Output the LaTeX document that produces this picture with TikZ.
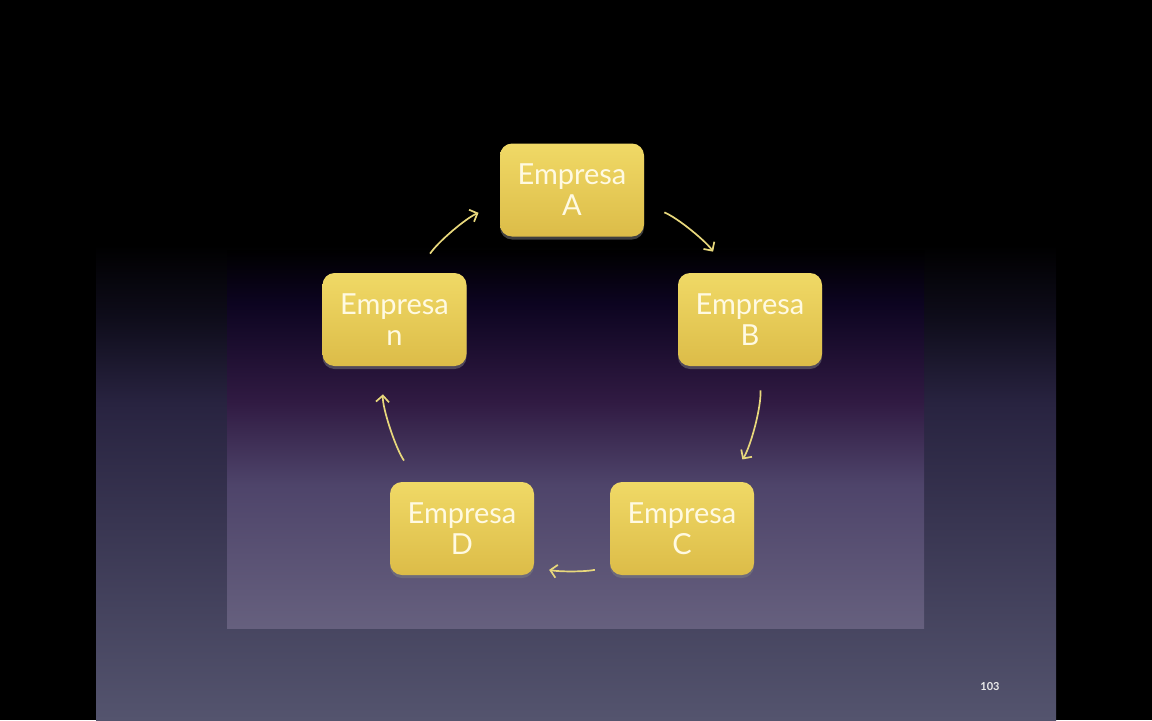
\documentclass[tikz,border=0pt]{standalone}
\usepackage{fontspec}
\setmainfont{Lato}
\usepackage{xcolor}
\usetikzlibrary{positioning,arrows.meta,shadows}
\definecolor{boxtop}{RGB}{240,217,102}
\definecolor{boxbot}{RGB}{220,188,72}
\definecolor{boxtxt}{RGB}{255,250,226}
\definecolor{arrowc}{RGB}{232,216,124}
\definecolor{bgbot}{RGB}{84,84,110}
\definecolor{bgmid}{RGB}{40,35,64}
\definecolor{bgup}{RGB}{14,12,26}
\definecolor{pnbot}{RGB}{102,96,126}
\definecolor{pnlow}{RGB}{78,68,106}
\definecolor{pnmid}{RGB}{48,26,66}
\definecolor{pnup}{RGB}{12,4,32}
\pgfdeclareverticalshading{slidebg}{100bp}{%
  color(0bp)=(bgbot); color(25bp)=(bgbot); color(47bp)=(bgmid);
  color(53bp)=(bgup); color(58bp)=(black); color(100bp)=(black)}
\pgfdeclareverticalshading{panelbg}{100bp}{%
  color(0bp)=(pnbot); color(25bp)=(pnbot); color(44bp)=(pnlow);
  color(55bp)=(pnmid); color(68bp)=(pnup); color(75bp)=(black); color(100bp)=(black)}
\tikzset{
  firm/.style  = {rounded corners=6pt, top color=boxtop, bottom color=boxbot,
                  minimum width=72pt, minimum height=46.5pt, inner sep=0pt,
                  align=center, text=boxtxt, font=\fontsize{14.5}{15.5}\selectfont,
                  drop shadow={shadow xshift=0pt, shadow yshift=-1.5pt, opacity=0.5}},
  flow/.style  = {-{Straight Barb[length=3.2pt, width=6.5pt]}, line width=0.85pt,
                  draw=arrowc, looseness=0.875},
  pagenum/.style = {font=\fontsize{5.5}{6}\selectfont\bfseries, text=white!92!black},
}

\begin{document}
\begin{tikzpicture}[x=0.5pt, y=0.5pt]
\useasboundingbox (0,0) rectangle (1152,720);

% ---- slide background ----
\fill[black] (0,0) rectangle (1152,720);
\shade[shading=slidebg] (96,0) rectangle (1056,720);
\shade[shading=panelbg] (227,92) rectangle (924,470);

% ---- the cycle of firms ----
\node[firm] (A) at (572,530)   {Empresa\\A};
\node[firm] (B) at (750,400.5) {Empresa\\B};
\node[firm] (C) at (682,191.5) {Empresa\\C};
\node[firm] (D) at (462,191.5) {Empresa\\D};
\node[firm] (N) at (394.5,400.5) {Empresa\\n};

% arrows follow the circle through the box centres
\draw[flow, shorten <=10.8pt, shorten >=12.6pt] (A.-11.3) to[out=-22.6, in=123.8] (B.116.3);
\draw[flow, shorten <=12pt,   shorten >=13.4pt] (B.-79.4) to[out=-86.7, in=55.8]  (C.46.1);
\draw[flow, shorten <=7.5pt,  shorten >=7.5pt]  (C.208.7) to[out=191,   in=-11]   (D.-28.7);
\draw[flow, shorten <=12.7pt, shorten >=14pt]   (D.133.9) to[out=124.2, in=266.7] (N.258.8);
\draw[flow, shorten <=11.4pt, shorten >=11.4pt] (N.64.6)  to[out=56.2,  in=202.6] (A.191.2);

\node[pagenum] (page) at (990,33) {103};

\end{tikzpicture}
\end{document}
